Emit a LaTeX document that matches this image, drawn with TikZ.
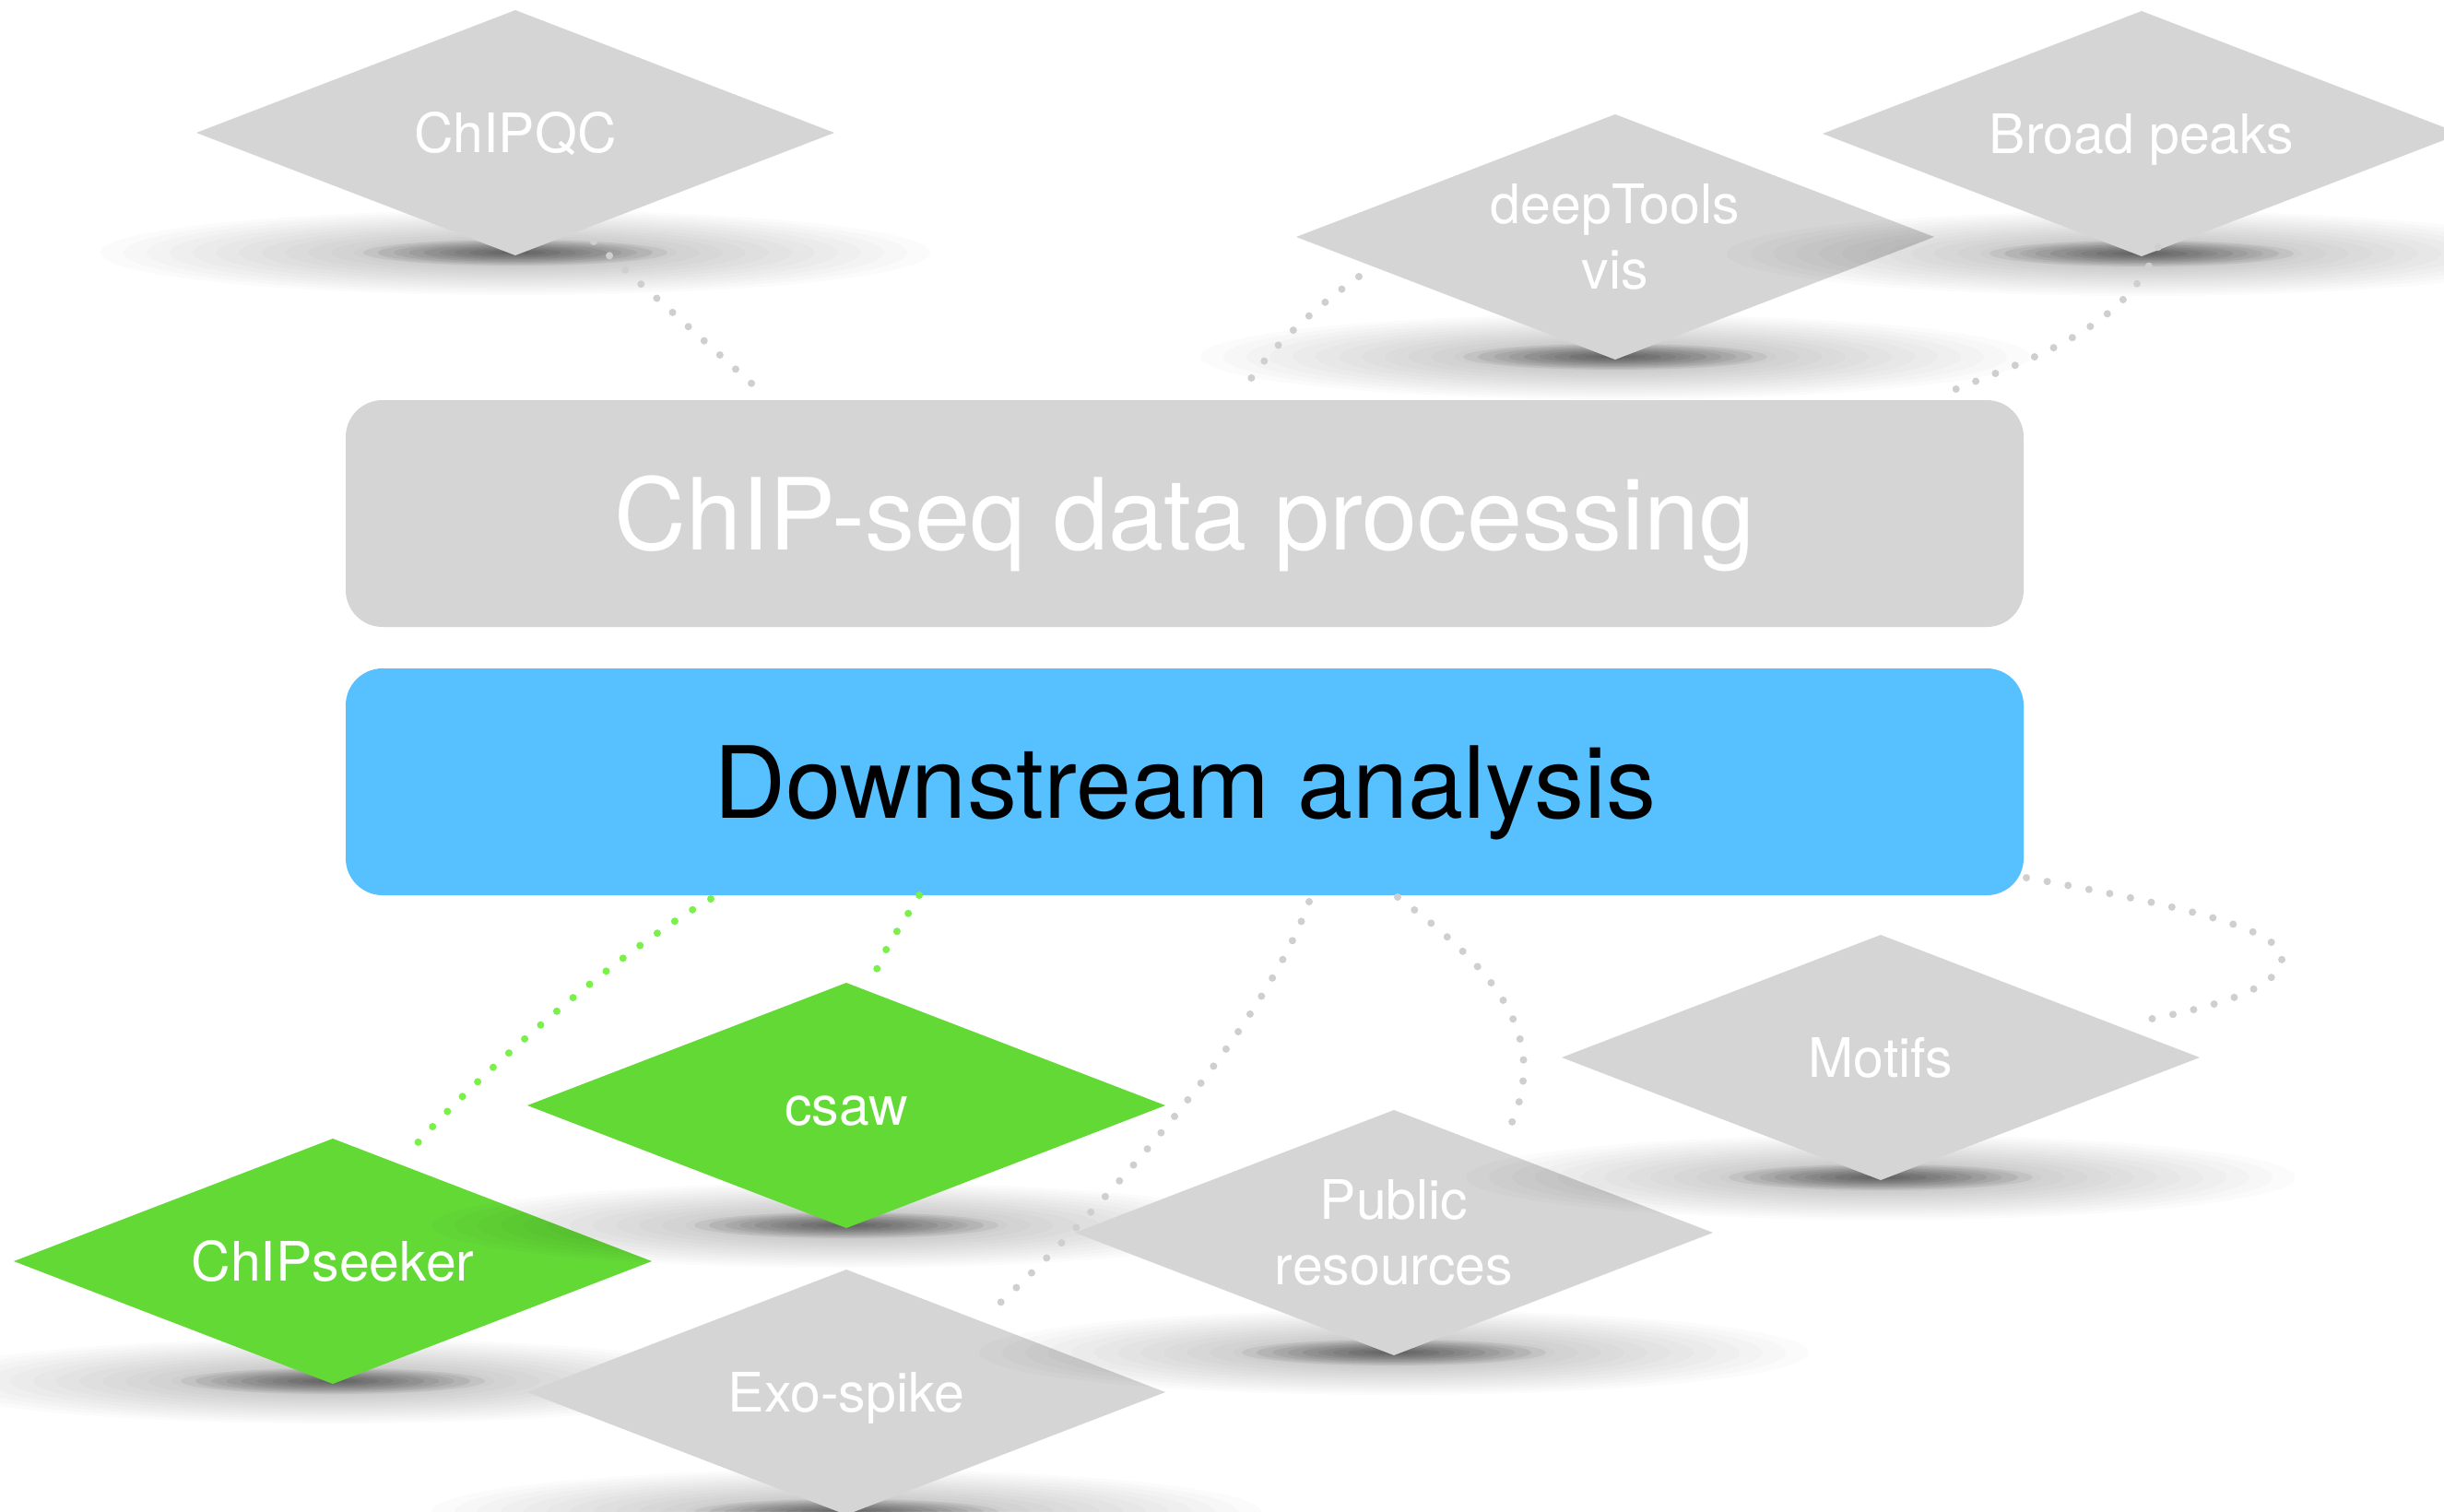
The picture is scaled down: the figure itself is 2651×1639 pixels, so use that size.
\documentclass[tikz,border=0pt]{standalone}
\usepackage{fontspec}
\setmainfont{TeX Gyre Heros}
\usetikzlibrary{shapes.geometric,calc}
\definecolor{boxgray}{HTML}{D5D5D5}
\definecolor{dgreen}{HTML}{63D936}
\definecolor{dblue}{HTML}{57C0FE}
\definecolor{dotgray}{HTML}{CFCFCF}
\definecolor{dotgreen}{HTML}{7BF04A}
\newcommand{\dshadow}[1]{%
  \foreach \k in {1,...,18}{%
    \fill[black, fill opacity=0.017] (#1) ellipse [x radius={450pt*\k/18}, y radius={46pt*\k/18}];}
  \foreach \k in {1,...,10}{%
    \fill[black, fill opacity=0.055] (#1) ellipse [x radius={165pt*\k/10}, y radius={14pt*\k/10}];}}
\tikzset{
  dia/.style={shape=diamond, aspect=2.6, minimum width=692pt, minimum height=266pt, inner sep=0pt, outer sep=0pt, fill=boxgray, text=white, font=\fontsize{59}{71}\selectfont, align=center},
  oneline/.style={text height=42pt, text depth=0pt},
  gfill/.style={fill=dgreen},
  bigbox/.style={rectangle, rounded corners=40pt, minimum width=1820pt, minimum height=246pt, inner sep=0pt, font=\fontsize{108}{120}\selectfont, text height=78pt, text depth=0pt},
  gdots/.style={draw=dotgray, line width=8pt, line cap=round, dash pattern=on 0pt off 23pt},
  grdots/.style={gdots, draw=dotgreen}
}
\begin{document}
\begin{tikzpicture}[x=1pt, y=-1pt]
\fill[white] (0,0) rectangle (2651,1639);
\useasboundingbox (0,0) rectangle (2651,1639);
\clip (0,0) rectangle (2651,1639);

% top diamonds
\dshadow{1752,387}
\node[dia] (deep) at (1752,257) {deepTools\\vis};
\dshadow{2323,275}
\node[dia, oneline] (broad) at (2323,145) {Broad peaks};
\dshadow{559,274}
\node[dia, oneline] (qc) at (559,144) {ChIPQC};

% boxes
\node[bigbox, fill=boxgray, text=white] (proc) at (1285,557) {ChIP-seq data processing};
\node[bigbox, fill=dblue, text=black] (down) at (1285,848) {Downstream analysis};

% bottom diamonds
\dshadow{361,1498}
\node[dia, oneline, gfill] (seeker) at (361,1368) {ChIPseeker};
\dshadow{918,1329}
\node[dia, oneline, gfill] (csaw) at (918,1199) {csaw};
\dshadow{918,1640}
\node[dia, oneline] (exo) at (918,1510) {Exo-spike};
\dshadow{1512,1467}
\node[dia] (pub) at (1512,1337) {Public\\resources};
\dshadow{2040,1277}
\node[dia, oneline] (motifs) at (2040,1147) {Motifs};

% connector end points
\coordinate (qcA) at (644,262);   \coordinate (qcB) at (822,422);
\coordinate (dpA) at (1474,300);  \coordinate (dpB) at (1354,415);
\coordinate (bpA) at (2341,268);  \coordinate (bpB) at (2107,428);
\coordinate (skA) at (771,975);   \coordinate (skB) at (442,1252);
\coordinate (csA) at (997,971);   \coordinate (csB) at (950,1054);
\coordinate (exA) at (1420,978);  \coordinate (exB) at (1085,1413);
\coordinate (puA) at (1516,973);  \coordinate (puB) at (1635,1228);
\coordinate (moA) at (2198,952);  \coordinate (moB) at (2318,1108);

\draw[gdots] (qcA) -- (qcB);
\draw[gdots] (dpA) .. controls (1433,329) and (1381,373) .. (dpB);
\draw[gdots] (bpA) .. controls (2303,360) and (2199,390) .. (bpB);
\draw[grdots] (skA) .. controls (675,1029) and (514,1168) .. (skB);
\draw[grdots] (csA) .. controls (985,993) and (958,1030) .. (csB);
\draw[gdots] (exA) .. controls (1369,1119) and (1195,1311) .. (exB);
\draw[gdots] (puA) .. controls (1612,1045) and (1689,1120) .. (puB);
\draw[gdots] (moA) .. controls (2380,985) and (2480,1010) .. (2475,1042) .. controls (2470,1075) and (2390,1095) .. (moB);
\end{tikzpicture}
\end{document}
